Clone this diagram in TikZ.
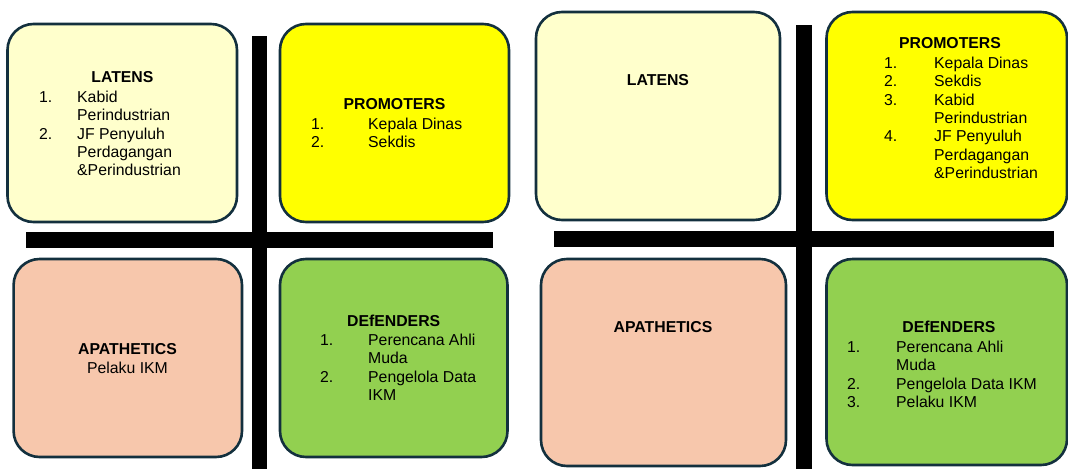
\documentclass[tikz,border=0pt]{standalone}
\usepackage{fontspec}
\setmainfont{Liberation Sans}
\usepackage{array}
\definecolor{latfill}{HTML}{FFFFCC}
\definecolor{profill}{HTML}{FFFF00}
\definecolor{apafill}{HTML}{F7C7AC}
\definecolor{deffill}{HTML}{92D050}
\definecolor{edge}{HTML}{13303E}
\tikzstyle{quad} = [draw=edge, line width=2.6pt, rounded corners=26pt, inner sep=0pt]
\tikzstyle{head} = [anchor=base, inner sep=0pt, font=\bfseries\fontsize{15.8}{18.3}\selectfont]
\tikzstyle{lst} = [anchor=base west, inner sep=0pt, font=\fontsize{15.8}{18.3}\selectfont]
\newcommand{\quadbox}[6]{\node [quad, fill=#2, minimum width=#5pt, minimum height=#6pt] (#1) at (#3,#4) {};}

\begin{document}
\begin{tikzpicture}[x=1pt, y=-1pt]
			\clip (0,0) rectangle (1068,469);
			\useasboundingbox (0,0) rectangle (1068,469);
			% left grid
			\quadbox{latA}{latfill}{122.25}{123}{229.5}{198}
			\quadbox{proA}{profill}{394.5}{123}{229}{198}
			\quadbox{apaA}{apafill}{127.8}{358}{228.4}{198}
			\quadbox{defA}{deffill}{393.75}{358}{227.5}{198}
			\fill (252,36) rectangle (267,469);
			\fill (25.5,232) rectangle (493,248);
			\node [head] (latAt) at (122.4,82.5) {LATENS};
			\node [lst] (latAl) at (39,102.5) {\begin{tabular}[t]{@{}p{38pt}@{}l@{}}
				1. & Kabid \\ & Perindustrian \\ 2. & JF Penyuluh \\ & Perdagangan \\ & \&Perindustrian
			\end{tabular}};
			\node [head] (proAt) at (394.5,109.5) {PROMOTERS};
			\node [lst] (proAl) at (311,129.5) {\begin{tabular}[t]{@{}p{57pt}@{}l@{}}
				1. & Kepala Dinas \\ 2. & Sekdis
			\end{tabular}};
			\node [head] (apaAt) at (127.5,354.5) {APATHETICS};
			\node [lst, anchor=base] (apaAl) at (127.5,373.5) {Pelaku IKM};
			\node [head] (defAt) at (393.7,326.5) {DEfENDERS};
			\node [lst] (defAl) at (320,345.5) {\begin{tabular}[t]{@{}p{48pt}@{}l@{}}
				1. & Perencana Ahli \\ & Muda \\ 2. & Pengelola Data \\ & IKM
			\end{tabular}};
			% right grid
			\quadbox{latB}{latfill}{658}{116}{244}{208}
			\quadbox{proB}{profill}{946.75}{116}{240.5}{208}
			\quadbox{apaB}{apafill}{663.5}{362.5}{245}{207}
			\quadbox{defB}{deffill}{946.75}{362}{240.5}{206}
			\fill (796,25) rectangle (812,469);
			\fill (554,231) rectangle (1054,247);
			\node [head] (latBt) at (658,85.5) {LATENS};
			\node [head] (proBt) at (950,48.5) {PROMOTERS};
			\node [lst] (proBl) at (884,68.5) {\begin{tabular}[t]{@{}p{50pt}@{}l@{}}
				1. & Kepala Dinas \\ 2. & Sekdis \\ 3. & Kabid \\ & Perindustrian \\ 4. & JF Penyuluh \\ & Perdagangan \\ & \&Perindustrian
			\end{tabular}};
			\node [head] (apaBt) at (663,332.5) {APATHETICS};
			\node [head] (defBt) at (949,332.5) {DEfENDERS};
			\node [lst] (defBl) at (847,352.5) {\begin{tabular}[t]{@{}p{49pt}@{}l@{}}
				1. & Perencana Ahli \\ & Muda \\ 2. & Pengelola Data IKM \\ 3. & Pelaku IKM
			\end{tabular}};
		\end{tikzpicture}
\end{document}
